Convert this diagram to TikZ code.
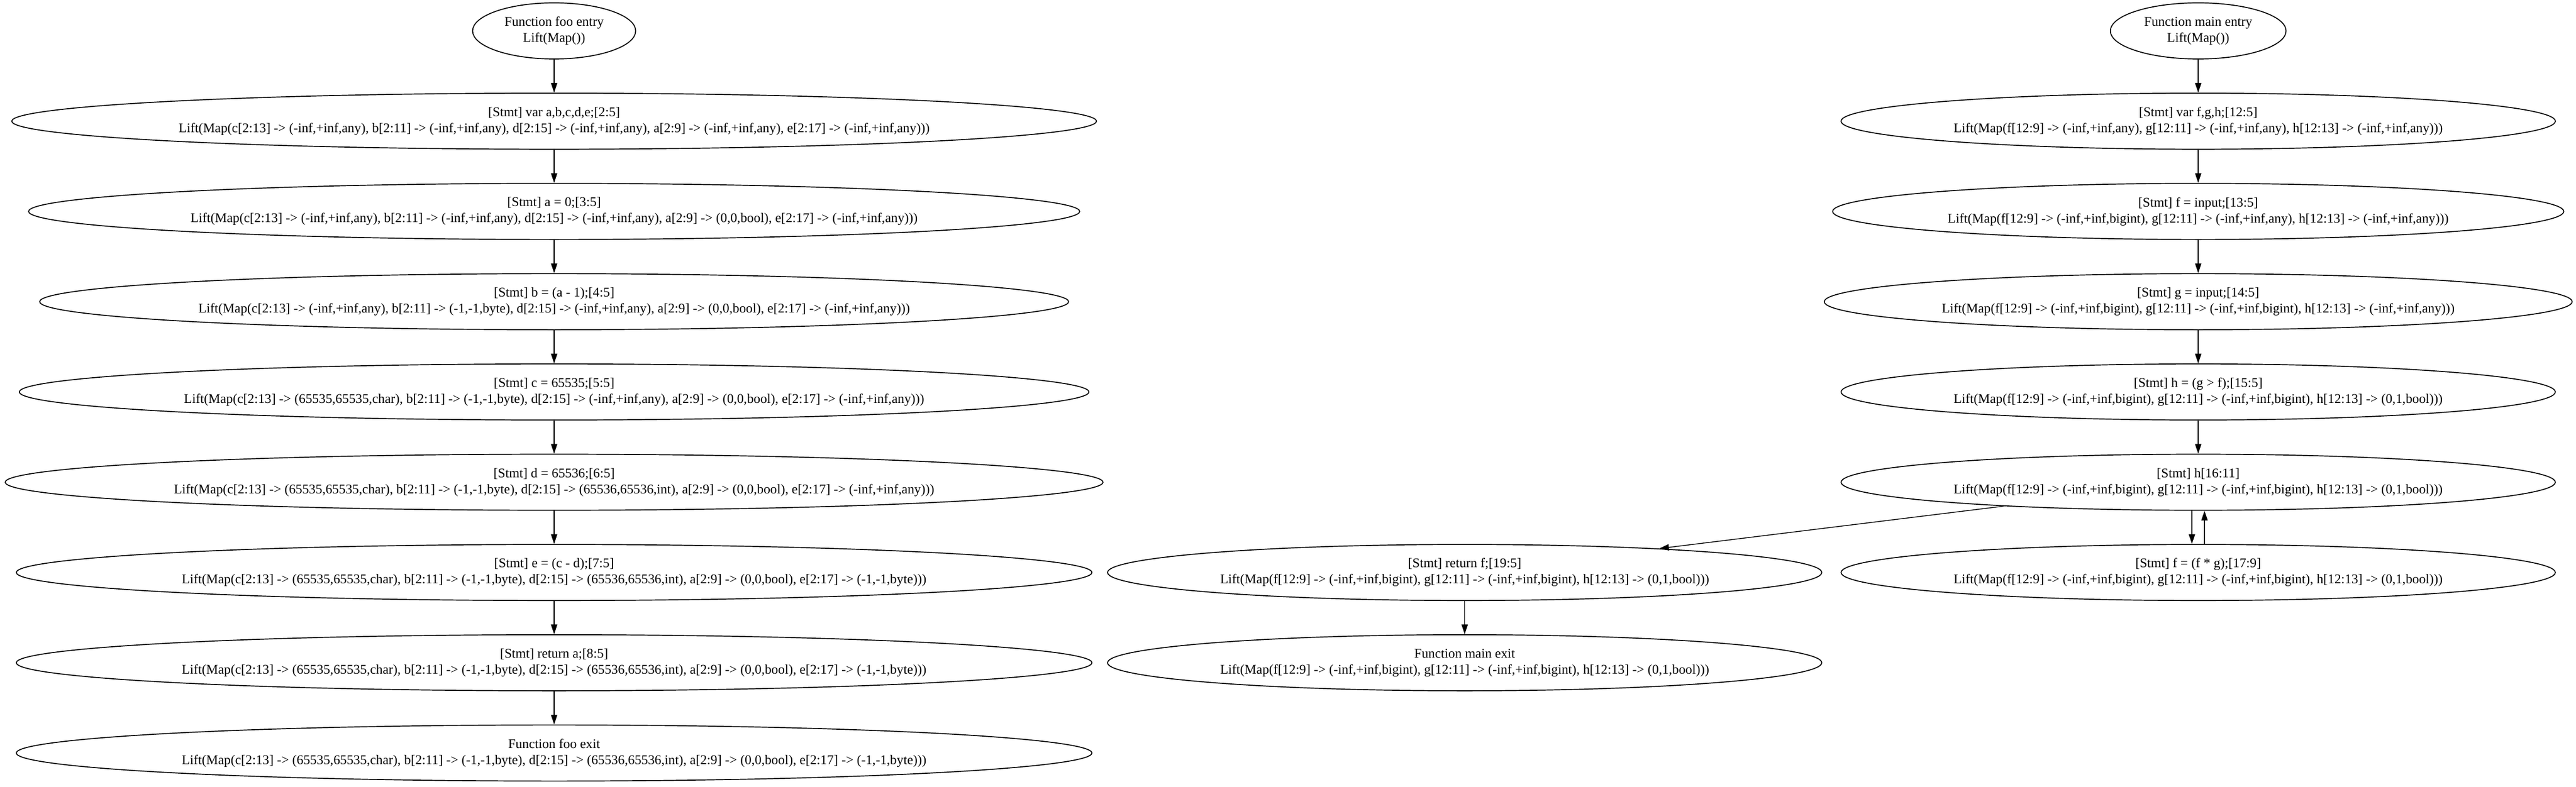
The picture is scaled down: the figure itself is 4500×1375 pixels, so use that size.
\documentclass[tikz,border=0pt]{standalone}
\usepackage{fontspec}
\setmainfont{Liberation Serif}
\usepackage{tikz}
\usetikzlibrary{positioning,shapes.geometric,arrows.meta}
\tikzset{
  block/.style    = {shape=ellipse, draw, align=center,
                     line width=1.7pt, inner xsep=14pt, inner ysep=2pt,
                     minimum height=98pt},
  funentry/.style = {block, minimum width=283pt},
  stmt/.style     = {block},
  funexit/.style  = {block}
}

\begin{document}
\begin{tikzpicture}
  [
    x                 = 1pt,
    y                 = 1pt,
    node distance     = 58pt,
    every node/.style = {font=\fontsize{23.3}{28}\selectfont},
    flow/.style       = {draw, line width=1.4pt,
                         -{Triangle[length=17pt,width=11pt]}}
  ]
\useasboundingbox (0,0) rectangle (4500,-1375);

% function foo
\node [funentry] (fooin) at (968,-54) {Function foo entry\\Lift(Map())};
\node [stmt, below=of fooin] (foovar)
  {[Stmt] var a,b,c,d,e;[2:5]\\Lift(Map(c[2:13] -> (-inf,+inf,any), b[2:11] -> (-inf,+inf,any), d[2:15] -> (-inf,+inf,any), a[2:9] -> (-inf,+inf,any), e[2:17] -> (-inf,+inf,any)))};
\node [stmt, below=of foovar] (fooa)
  {[Stmt] a = 0;[3:5]\\Lift(Map(c[2:13] -> (-inf,+inf,any), b[2:11] -> (-inf,+inf,any), d[2:15] -> (-inf,+inf,any), a[2:9] -> (0,0,bool), e[2:17] -> (-inf,+inf,any)))};
\node [stmt, below=of fooa] (foob)
  {[Stmt] b = (a - 1);[4:5]\\Lift(Map(c[2:13] -> (-inf,+inf,any), b[2:11] -> (-1,-1,byte), d[2:15] -> (-inf,+inf,any), a[2:9] -> (0,0,bool), e[2:17] -> (-inf,+inf,any)))};
\node [stmt, below=of foob] (fooc)
  {[Stmt] c = 65535;[5:5]\\Lift(Map(c[2:13] -> (65535,65535,char), b[2:11] -> (-1,-1,byte), d[2:15] -> (-inf,+inf,any), a[2:9] -> (0,0,bool), e[2:17] -> (-inf,+inf,any)))};
\node [stmt, below=of fooc] (food)
  {[Stmt] d = 65536;[6:5]\\Lift(Map(c[2:13] -> (65535,65535,char), b[2:11] -> (-1,-1,byte), d[2:15] -> (65536,65536,int), a[2:9] -> (0,0,bool), e[2:17] -> (-inf,+inf,any)))};
\node [stmt, below=of food] (fooe)
  {[Stmt] e = (c - d);[7:5]\\Lift(Map(c[2:13] -> (65535,65535,char), b[2:11] -> (-1,-1,byte), d[2:15] -> (65536,65536,int), a[2:9] -> (0,0,bool), e[2:17] -> (-1,-1,byte)))};
\node [stmt, below=of fooe] (fooret)
  {[Stmt] return a;[8:5]\\Lift(Map(c[2:13] -> (65535,65535,char), b[2:11] -> (-1,-1,byte), d[2:15] -> (65536,65536,int), a[2:9] -> (0,0,bool), e[2:17] -> (-1,-1,byte)))};
\node [funexit, below=of fooret] (fooout)
  {Function foo exit\\Lift(Map(c[2:13] -> (65535,65535,char), b[2:11] -> (-1,-1,byte), d[2:15] -> (65536,65536,int), a[2:9] -> (0,0,bool), e[2:17] -> (-1,-1,byte)))};

% function main
\node [funentry] (mainin) at (3840,-54) {Function main entry\\Lift(Map())};
\node [stmt, below=of mainin] (mainvar)
  {[Stmt] var f,g,h;[12:5]\\Lift(Map(f[12:9] -> (-inf,+inf,any), g[12:11] -> (-inf,+inf,any), h[12:13] -> (-inf,+inf,any)))};
\node [stmt, below=of mainvar] (mainf)
  {[Stmt] f = input;[13:5]\\Lift(Map(f[12:9] -> (-inf,+inf,bigint), g[12:11] -> (-inf,+inf,any), h[12:13] -> (-inf,+inf,any)))};
\node [stmt, below=of mainf] (maing)
  {[Stmt] g = input;[14:5]\\Lift(Map(f[12:9] -> (-inf,+inf,bigint), g[12:11] -> (-inf,+inf,bigint), h[12:13] -> (-inf,+inf,any)))};
\node [stmt, below=of maing] (mainh)
  {[Stmt] h = (g > f);[15:5]\\Lift(Map(f[12:9] -> (-inf,+inf,bigint), g[12:11] -> (-inf,+inf,bigint), h[12:13] -> (0,1,bool)))};
\node [stmt, below=of mainh] (maincond)
  {[Stmt] h[16:11]\\Lift(Map(f[12:9] -> (-inf,+inf,bigint), g[12:11] -> (-inf,+inf,bigint), h[12:13] -> (0,1,bool)))};
\node [stmt, below=of maincond] (mainloop)
  {[Stmt] f = (f * g);[17:9]\\Lift(Map(f[12:9] -> (-inf,+inf,bigint), g[12:11] -> (-inf,+inf,bigint), h[12:13] -> (0,1,bool)))};
\node [stmt, left=32pt of mainloop] (mainret)
  {[Stmt] return f;[19:5]\\Lift(Map(f[12:9] -> (-inf,+inf,bigint), g[12:11] -> (-inf,+inf,bigint), h[12:13] -> (0,1,bool)))};
\node [funexit, below=of mainret] (mainout)
  {Function main exit\\Lift(Map(f[12:9] -> (-inf,+inf,bigint), g[12:11] -> (-inf,+inf,bigint), h[12:13] -> (0,1,bool)))};

% edges
\foreach \a/\b in {fooin/foovar, foovar/fooa, fooa/foob, foob/fooc, fooc/food,
                   food/fooe, fooe/fooret, fooret/fooout,
                   mainin/mainvar, mainvar/mainf, mainf/maing, maing/mainh,
                   mainh/maincond, maincond/mainret, mainret/mainout}
  \path [flow] (\a) -- (\b);
\path [flow] ([xshift=-11pt]maincond.south) -- ([xshift=-11pt]mainloop.north);
\path [flow] ([xshift=11pt]mainloop.north) -- ([xshift=11pt]maincond.south);
\end{tikzpicture}
\end{document}
